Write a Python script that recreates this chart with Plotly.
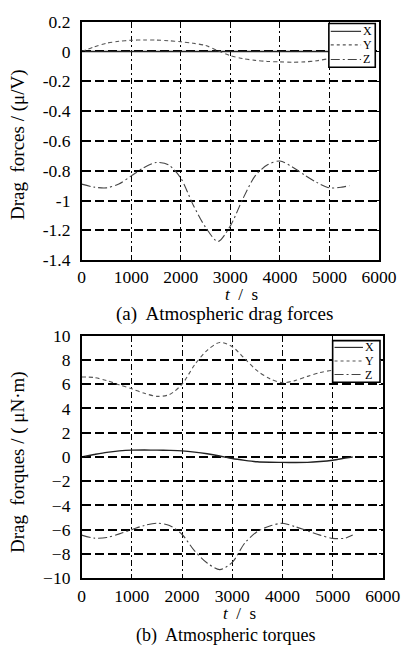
import plotly.graph_objects as go

# Time samples (s)
t = [0, 250, 500, 750, 1000, 1250, 1500, 1750, 2000, 2250, 2500, 2750,
     3000, 3250, 3500, 3750, 4000, 4250, 4500, 4750, 5000, 5250, 5400]

# (a) Atmospheric drag forces, mu/V
force_x = [0.0] * len(t)
force_y = [0.0, 0.03, 0.055, 0.068, 0.075, 0.077, 0.076, 0.072, 0.065, 0.055,
           0.04, 0.005, -0.028, -0.048, -0.06, -0.067, -0.07, -0.072, -0.07,
           -0.062, -0.048, -0.04, -0.038]
force_z = [-0.89, -0.91, -0.915, -0.89, -0.835, -0.78, -0.745, -0.76, -0.85,
           -1.03, -1.18, -1.275, -1.17, -0.99, -0.835, -0.76, -0.735, -0.775,
           -0.83, -0.88, -0.915, -0.91, -0.9]

# (b) Atmospheric torques, uN*m
torque_x = [0.0, 0.2, 0.38, 0.5, 0.56, 0.57, 0.56, 0.54, 0.5, 0.4, 0.26, 0.08,
            -0.13, -0.28, -0.4, -0.44, -0.45, -0.46, -0.45, -0.38, -0.27, -0.1, 0.0]
torque_y = [6.6, 6.55, 6.3, 5.95, 5.62, 5.25, 5.0, 5.15, 6.0, 7.6, 8.8, 9.45,
            9.1, 8.1, 7.1, 6.45, 6.12, 6.3, 6.65, 6.97, 7.15, 7.25, 7.3]
torque_z = [-6.45, -6.7, -6.65, -6.35, -6.0, -5.65, -5.47, -5.65, -6.4, -7.75,
            -8.75, -9.3, -8.7, -7.1, -6.15, -5.7, -5.47, -5.75, -6.1, -6.45,
            -6.72, -6.7, -6.45]

series_names = ["X", "Y", "Z"]
x_ticks = [0, 1000, 2000, 3000, 4000, 5000, 6000]
force_ticks = [0.2, 0, -0.2, -0.4, -0.6, -0.8, -1, -1.2, -1.4]
torque_ticks = [10, 8, 6, 4, 2, 0, -2, -4, -6, -8, -10]

W, H = 416, 656
FONT = "Liberation Serif"
dashes = {"X": "solid", "Y": "4px,3px", "Z": "9px,3px,2px,3px"}
colors = {"X": "#222222", "Y": "#555555", "Z": "#444444"}


def px(x):
    return x / W


def py(y):
    return 1 - y / H


fig = go.Figure()

panels = [
    ("x", "y", [force_x, force_y, force_z]),
    ("x2", "y2", [torque_x, torque_y, torque_z]),
]
for xa, ya, data in panels:
    for name, vals in zip(series_names, data):
        fig.add_trace(go.Scatter(
            x=t, y=vals, xaxis=xa, yaxis=ya, mode="lines", name=name,
            line=dict(color=colors[name], width=1.4 if name == "X" else 1.1,
                      dash=dashes[name], shape="spline", smoothing=0.8),
            showlegend=False))

axis_common = dict(
    showline=True, linecolor="black", linewidth=1.5, mirror="ticks",
    ticks="inside", ticklen=4, tickcolor="black",
    tickfont=dict(family=FONT, size=17.5, color="black"),
    zeroline=False, showgrid=True, gridcolor="black",
)

fig.update_layout(
    width=W, height=H, margin=dict(l=0, r=0, t=0, b=0),
    paper_bgcolor="white", plot_bgcolor="white",
    xaxis=dict(domain=[px(82), px(396)], range=[0, 6000], tickvals=x_ticks,
               anchor="y", griddash="6px,3px,2px,3px", gridwidth=1.4,
               ticklabelstandoff=0, **axis_common),
    yaxis=dict(domain=[py(258), py(12)], range=[-1.4, 0.2],
               tickvals=force_ticks,
               ticktext=[("%g" % v) for v in force_ticks],
               anchor="x", griddash="9px,4px", gridwidth=1.7,
               ticklabelstandoff=6, **axis_common),
    xaxis2=dict(domain=[px(82), px(400)], range=[0, 6000], tickvals=x_ticks,
                anchor="y2", griddash="6px,3px,2px,3px", gridwidth=1.4,
                ticklabelstandoff=1, **axis_common),
    yaxis2=dict(domain=[py(586), py(336)], range=[-10, 10],
                tickvals=torque_ticks, anchor="x2", griddash="9px,4px",
                gridwidth=1.7, ticklabelstandoff=6, **axis_common),
)

# Axis titles and captions
texts = [
    ("<i>t</i>&nbsp; /&nbsp; s", 251, 293, 0, 17),
    ("(a)  Atmospheric drag forces", 233, 314, 0, 19),
    ("<i>t</i>&nbsp; /&nbsp; s", 249, 622, 0, 17),
    ("(b)  Atmospheric torques", 234, 645, 0, 18),
    ("Drag&nbsp; forces / (\u03bc/V)", 15, 139, -90, 19),
    ("Drag&nbsp; forques / ( \u03bcN\u00b7m)", 15, 466, -90, 19),
]
for txt, x, y, ang, size in texts:
    fig.add_annotation(x=px(x), y=py(y), xref="paper", yref="paper",
                       text=txt, showarrow=False, textangle=ang,
                       xanchor="center", yanchor="middle",
                       font=dict(family=FONT, size=size, color="black"))

# Legend boxes
legends = [
    (343, 392, 14, 59, [22, 36, 51], 345, 377),
    (347, 397, 341, 384, [348, 362, 376], 349, 379),
]
for x0, x1, y0, y1, rows, lx0, lx1 in legends:
    fig.add_shape(type="rect", xref="paper", yref="paper",
                  x0=px(x0), x1=px(x1), y0=py(y1), y1=py(y0),
                  line=dict(color="black", width=1.6), fillcolor="white",
                  layer="above")
    for name, ry in zip(series_names, rows):
        fig.add_shape(type="line", xref="paper", yref="paper",
                      x0=px(lx0), x1=px(lx1), y0=py(ry), y1=py(ry),
                      line=dict(color=colors[name], width=1.1,
                                dash="dot" if name == "Y" else dashes[name]),
                      layer="above")
        fig.add_annotation(x=px(lx1), y=py(ry), xref="paper",
                           yref="paper", text=name, showarrow=False,
                           xanchor="left", yanchor="middle",
                           font=dict(family=FONT, size=12, color="black"))

fig.write_html("out.html")
